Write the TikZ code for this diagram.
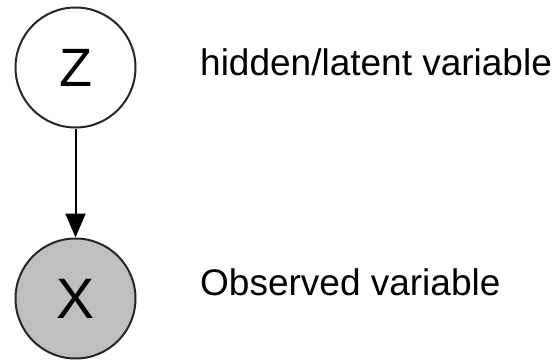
\documentclass[tikz,border=0pt]{standalone}
\usepackage{fontspec}
\setmainfont{Liberation Sans}
\usetikzlibrary{arrows.meta}
\begin{document}
\begin{tikzpicture}[x=1pt,y=-1pt,
  var/.style={circle,draw=black!85,line width=2pt,minimum size=120pt,inner sep=0pt},
  obs/.style={var,fill=gray!50},
  lbl/.style={anchor=base west,inner sep=0pt,font=\fontsize{37}{44}\selectfont},
  edge/.style={draw=black,line width=2pt,-{Triangle[length=24pt,width=20pt]}}]
\useasboundingbox (0,0) rectangle (557,359);
\node[var,font=\fontsize{54}{60}\selectfont] (z) at (75.5,67.5) {Z};
\node[obs,font=\fontsize{57}{62}\selectfont] (x) at (75.5,298.5) {X};
\draw[edge] (z) -- (x);
\node[lbl] (zl) at (200,75) {hidden/latent variable};
\node[lbl] (xl) at (200,295) {Observed variable};
\end{tikzpicture}
\end{document}
